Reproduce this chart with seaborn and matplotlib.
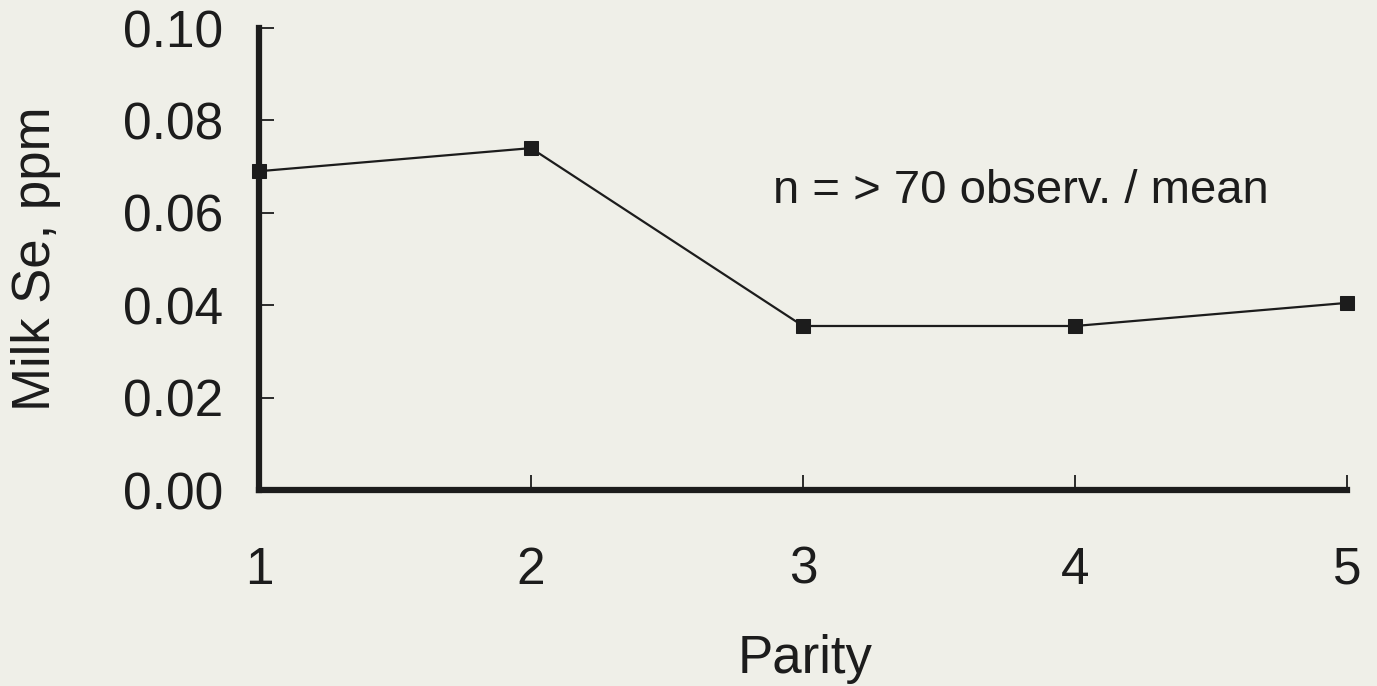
import matplotlib
matplotlib.use("Agg")
import matplotlib.pyplot as plt
import seaborn as sns
import pandas as pd

parity = [1, 2, 3, 4, 5]
milk_se = [0.069, 0.074, 0.0355, 0.0355, 0.0405]
y_ticks = [0.00, 0.02, 0.04, 0.06, 0.08, 0.10]
y_tick_labels = ["0.00", "0.02", "0.04", "0.06", "0.08", "0.10"]
annotation = "n = > 70 observ. / mean"

sns.set_style("white")
plt.rcParams['font.family'] = ['Liberation Sans', 'DejaVu Sans']

bg = "#efefe8"
ink = "#1c1c1c"
fig = plt.figure(figsize=(13.77, 6.86), dpi=100, facecolor=bg)
ax = fig.add_axes([259 / 1377, 1 - 490 / 686, 1088 / 1377, 462 / 686])
ax.set_facecolor(bg)

df = pd.DataFrame({"Parity": parity, "Se": milk_se})
sns.lineplot(data=df, x="Parity", y="Se", ax=ax, color=ink, linewidth=1.6,
             marker="s", markersize=10, markeredgecolor=ink, markerfacecolor=ink,
             clip_on=False)

ax.set_xlim(1, 5)
ax.set_ylim(0, 0.10)
ax.set_xticks(parity)
ax.set_xticklabels([str(p) for p in parity])
ax.set_yticks(y_ticks)
ax.set_yticklabels(y_tick_labels)

for s in ["top", "right"]:
    ax.spines[s].set_visible(False)
for s in ["left", "bottom"]:
    ax.spines[s].set_linewidth(4.5)
    ax.spines[s].set_color(ink)
    ax.spines[s].set_capstyle("projecting")

ax.tick_params(axis="both", direction="in", length=11, width=1.3, color=ink,
               labelsize=37, labelcolor=ink, bottom=True, left=True)
ax.tick_params(axis="x", pad=40)
ax.tick_params(axis="y", pad=26)

ax.set_xlabel("Parity", fontsize=38, color=ink)
ax.xaxis.label.set_va("baseline")
ax.xaxis.set_label_coords((805 - 259) / 1088, (13 - 196) / 462)
ax.set_ylabel("Milk Se, ppm", fontsize=38, color=ink)
ax.yaxis.label.set_va("baseline")
ax.yaxis.set_label_coords((50 - 259) / 1088, 0.5)

ax.text(2.89, 0.0621, annotation, fontsize=34, color=ink, va="baseline", ha="left")

fig.savefig("out.png", dpi=100, facecolor=bg)
